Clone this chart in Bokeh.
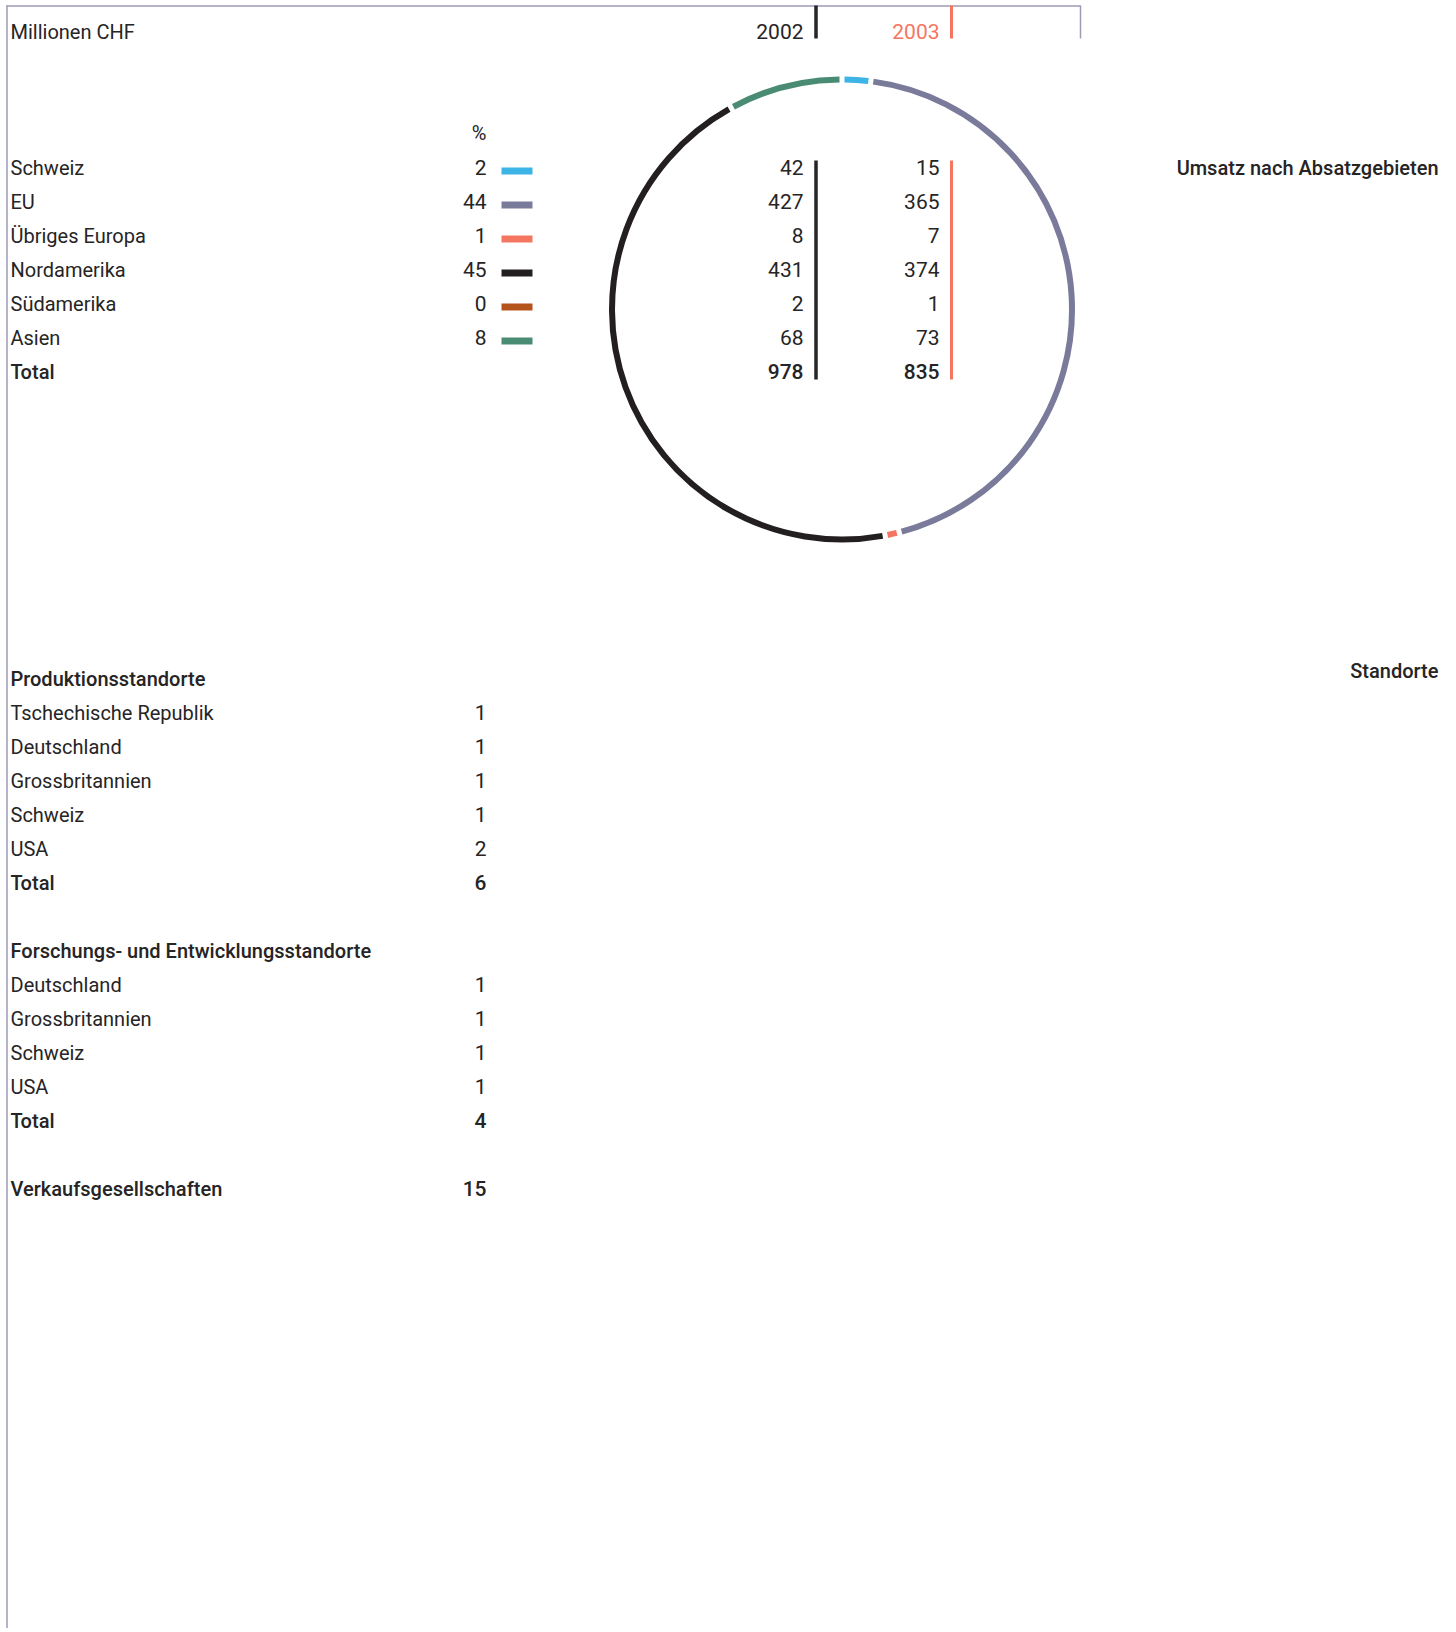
import math
from bokeh.plotting import figure
from bokeh.models import Range1d, ColumnDataSource
from bokeh.core.properties import value
from bokeh.embed import file_html
from bokeh.resources import INLINE

# ---------------- data ----------------
unit_label = "Millionen CHF"
years = ["2002", "2003"]
regions = ["Schweiz", "EU", "Übriges Europa", "Nordamerika", "Südamerika", "Asien"]
share_pct = [2, 44, 1, 45, 0, 8]
sales_2002 = [42, 427, 8, 431, 2, 68]
sales_2003 = [15, 365, 7, 374, 1, 73]
total_2002 = 978
total_2003 = 835
region_colors = ["#3cb4e6", "#7a7a9b", "#f47660", "#231f20", "#b4531a", "#4a8c73"]

prod_sites = ["Tschechische Republik", "Deutschland", "Grossbritannien", "Schweiz", "USA"]
prod_counts = [1, 1, 1, 1, 2]
prod_total = 6
rnd_sites = ["Deutschland", "Grossbritannien", "Schweiz", "USA"]
rnd_counts = [1, 1, 1, 1]
rnd_total = 4
sales_companies = 15

# ---------------- style ----------------
FONT = "Roboto"
FONT_B = "Roboto Medium"
FS = "20px"
FS_NUM = "21px"
INK = "#262425"
RED = "#f47660"
BORDER = "#9c9ab4"
ROW = 34
TY = -8  # text baseline offset

W, H = 1452, 1628
p = figure(width=W, height=H, x_range=Range1d(0, W), y_range=Range1d(H, 0),
           output_backend="svg", toolbar_location=None, min_border=0,
           x_axis_location=None, y_axis_location=None)
p.grid.visible = False
p.outline_line_color = None
p.background_fill_color = "white"
p.border_fill_color = "white"


def txt(xs, ys, texts, align="left", bold=False, color=INK, size=FS):
    src = ColumnDataSource(dict(x=list(xs), y=[y + TY for y in ys], text=[str(t) for t in texts]))
    p.text(x="x", y="y", text="text", source=src, text_align=align,
           text_baseline="alphabetic", text_font=value(FONT_B if bold else FONT),
           text_font_size=size, text_color=color)


# frame lines
p.segment(x0=[6, 6.5, 1080], y0=[5.5, 5, 5], x1=[1080, 6.5, 1080], y1=[5.5, H, 38],
          line_color=BORDER, line_width=1.5)

# header
X_NAME, X_PCT, X_2002, X_2003 = 10, 486, 803, 939
BAR_2002, BAR_2003 = 815.5, 951
txt([X_NAME], [39], [unit_label])
txt([X_2002], [39], [years[0]], align="right", size=FS_NUM)
txt([X_2003], [39], [years[1]], align="right", color=RED, size=FS_NUM)
p.segment(x0=[BAR_2002], y0=[5], x1=[BAR_2002], y1=[38], line_color=INK, line_width=3.5)
p.segment(x0=[BAR_2003], y0=[5], x1=[BAR_2003], y1=[38], line_color=RED, line_width=3)

# region table
B0 = 175
row_y = [B0 + ROW * i for i in range(len(regions))]
tot_y = B0 + ROW * len(regions)
txt([X_PCT], [140], ["%"], align="right")
txt([X_NAME] * len(regions), row_y, regions)
txt([X_PCT] * len(regions), row_y, share_pct, align="right", size=FS_NUM)
p.hbar(y=[y - 4.5 for y in row_y], left=501, right=532, height=7,
       color=region_colors, line_color=None)
txt([X_2002] * len(regions), row_y, sales_2002, align="right", size=FS_NUM)
txt([X_2003] * len(regions), row_y, sales_2003, align="right", size=FS_NUM)
txt([X_NAME], [tot_y], ["Total"], bold=True)
txt([X_2002], [tot_y], [total_2002], align="right", bold=True, size=FS_NUM)
txt([X_2003], [tot_y], [total_2003], align="right", bold=True, size=FS_NUM)
p.segment(x0=[BAR_2002], y0=[B0 - 15], x1=[BAR_2002], y1=[tot_y], line_color=INK, line_width=3.5)
p.segment(x0=[BAR_2003], y0=[B0 - 15], x1=[BAR_2003], y1=[tot_y], line_color=RED, line_width=3)

# ring of percentage shares
CX, CY, R = 841.5, 309, 230
gap = 5.0 / R
tot = sum(share_pct)
cum = 0
st, en, cl = [], [], []
for v, c in zip(share_pct, region_colors):
    a0 = math.pi / 2 - 2 * math.pi * cum / tot
    cum += v
    a1 = math.pi / 2 - 2 * math.pi * cum / tot
    if a0 - a1 > gap:
        st.append(a0 - gap / 2)
        en.append(a1 + gap / 2)
        cl.append(c)
arc_src = ColumnDataSource(dict(x=[CX] * len(st), y=[CY] * len(st), s=st, e=en, c=cl))
p.arc(x="x", y="y", radius=R, radius_units="screen", start_angle="s", end_angle="e",
      direction="clock", line_color="c", line_width=6, source=arc_src)

# section titles (right)
txt([1438], [175], ["Umsatz nach Absatzgebieten"], align="right", bold=True)
txt([1438], [678], ["Standorte"], align="right", bold=True)

# sites tables
S0 = 686
X_CNT = 486
txt([X_NAME], [S0], ["Produktionsstandorte"], bold=True)
py = [S0 + ROW * (i + 1) for i in range(len(prod_sites))]
txt([X_NAME] * len(py), py, prod_sites)
txt([X_CNT] * len(py), py, prod_counts, align="right", size=FS_NUM)
pt = S0 + ROW * (len(prod_sites) + 1)
txt([X_NAME], [pt], ["Total"], bold=True)
txt([X_CNT], [pt], [prod_total], align="right", bold=True, size=FS_NUM)

F0 = pt + 2 * ROW
txt([X_NAME], [F0], ["Forschungs- und Entwicklungsstandorte"], bold=True)
ry = [F0 + ROW * (i + 1) for i in range(len(rnd_sites))]
txt([X_NAME] * len(ry), ry, rnd_sites)
txt([X_CNT] * len(ry), ry, rnd_counts, align="right", size=FS_NUM)
rt = F0 + ROW * (len(rnd_sites) + 1)
txt([X_NAME], [rt], ["Total"], bold=True)
txt([X_CNT], [rt], [rnd_total], align="right", bold=True, size=FS_NUM)

V0 = rt + 2 * ROW
txt([X_NAME], [V0], ["Verkaufsgesellschaften"], bold=True)
txt([X_CNT], [V0], [sales_companies], align="right", bold=True, size=FS_NUM)

open("out.html", "w").write(file_html(p, INLINE))
